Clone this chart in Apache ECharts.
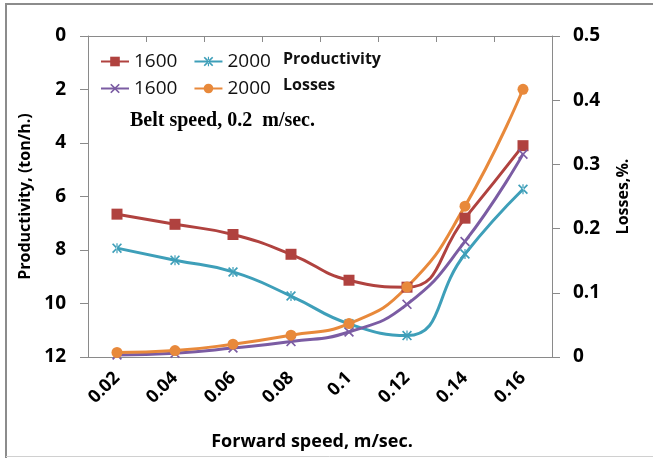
<!DOCTYPE html>
<html><head><meta charset="utf-8">
<script src="https://cdn.jsdelivr.net/npm/echarts@6/dist/echarts.min.js"></script>
<style>html,body{margin:0;padding:0;background:#fff}#c{width:653px;height:458px}</style>
</head><body><div id="c"></div>
<script>
const categories = ['0.02','0.04','0.06','0.08','0.1','0.12','0.14','0.16'];
const prod1600 = [6.66, 7.04, 7.42, 8.16, 9.13, 9.39, 6.81, 4.10];
const prod2000 = [7.93, 8.38, 8.82, 9.72, 10.76, 11.20, 8.15, 5.73];
const loss1600 = [0.003, 0.006, 0.014, 0.024, 0.039, 0.082, 0.180, 0.316];
const loss2000 = [0.007, 0.010, 0.020, 0.034, 0.052, 0.109, 0.235, 0.417];
const prodTicks = [0, 12, 2];
const lossTicks = [0, 0.5, 0.1];

const X_PATH = 'path://M0,1.2L1.2,0L5,3.8L8.8,0L10,1.2L6.2,5L10,8.8L8.8,10L5,6.2L1.2,10L0,8.8L3.8,5Z';
const STAR_PATH = 'path://M0,1.2L1.2,0L5,3.8L8.8,0L10,1.2L6.2,5L10,8.8L8.8,10L5,6.2L1.2,10L0,8.8L3.8,5Z M4.4,0L4.4,10L5.6,10L5.6,0Z';
const C = {red:'#B0423F', cyan:'#3E9FB9', purple:'#7B5CA3', orange:'#E8893B'};
const FONT = '"Open Sans", "Liberation Sans", sans-serif';

const chart = echarts.init(document.getElementById('c'), null, {renderer:'canvas'});
function line(name, data, yIdx, color, symbol, size){
  return {name, type:'line', yAxisIndex:yIdx, data, smooth:0.5, symbol, symbolSize:size,
    lineStyle:{color, width:3}, itemStyle:{color}, emphasis:{disabled:true}};
}
const legendText = {fontFamily:FONT, fontSize:19, fontWeight:500, color:'#111'};
chart.setOption({
  animation:false,
  grid:{left:88, right:101, top:36, bottom:101, containLabel:false},
  legend:[
    {left:95, top:47, padding:5, itemWidth:28, itemHeight:12, itemGap:16, data:['P1600','P2000'],
     formatter:n=>n.slice(1), textStyle:legendText},
    {left:95, top:74, padding:5, itemWidth:28, itemHeight:12, itemGap:16, data:['L1600','L2000'],
     formatter:n=>n.slice(1), textStyle:legendText}
  ],
  xAxis:[
    {type:'category', data:categories, position:'bottom', boundaryGap:true,
     axisLine:{lineStyle:{color:'#8a8a8a', width:1}},
     axisTick:{show:true, length:6, lineStyle:{color:'#8a8a8a'}},
     axisLabel:{rotate:45, margin:18, fontFamily:FONT, fontWeight:'bold', fontSize:18, color:'#000'},
     name:'Forward speed, m/sec.', nameLocation:'middle', nameGap:76,
     nameTextStyle:{fontFamily:FONT, fontWeight:'bold', fontSize:18, color:'#000', padding:[0,16,0,0]}},
    {type:'category', data:categories, position:'top', axisLine:{show:true, lineStyle:{color:'#8a8a8a'}},
     axisTick:{show:false}, axisLabel:{show:false}}
  ],
  yAxis:[
    {type:'value', inverse:true, min:prodTicks[0], max:prodTicks[1], interval:prodTicks[2], position:'left',
     axisLine:{show:true, lineStyle:{color:'#8a8a8a'}}, axisTick:{show:true, length:8, lineStyle:{color:'#8a8a8a'}},
     splitLine:{show:false},
     axisLabel:{margin:22, fontFamily:FONT, fontWeight:'bold', fontSize:19, color:'#000'},
     name:'Productivity, (ton/h.)', nameLocation:'middle', nameGap:55, nameRotate:90,
     nameTextStyle:{fontFamily:FONT, fontWeight:'bold', fontSize:16, color:'#000'}},
    {type:'value', min:lossTicks[0], max:lossTicks[1], interval:lossTicks[2], position:'right',
     axisLine:{show:true, lineStyle:{color:'#8a8a8a'}}, axisTick:{show:true, length:8, lineStyle:{color:'#8a8a8a'}},
     splitLine:{show:false},
     axisLabel:{margin:21, fontFamily:FONT, fontWeight:'bold', fontSize:19, color:'#000'},
     name:'Losses,%.', nameLocation:'middle', nameGap:63, nameRotate:90,
     nameTextStyle:{fontFamily:FONT, fontWeight:'bold', fontSize:16, color:'#000'}}
  ],
  graphic:[
    {type:'text', left:283, top:51, style:{text:'Productivity', font:'bold 16px '+FONT, fill:'#111'}},
    {type:'text', left:283, top:77, style:{text:'Losses', font:'bold 16px '+FONT, fill:'#111'}},
    {type:'text', left:130, top:111, style:{text:'Belt speed, 0.2  m/sec.', font:'bold 20px "Liberation Serif", serif', fill:'#000'}},
    {type:'line', shape:{x1:5, y1:4, x2:653, y2:4}, style:{stroke:'#8c8c8c', lineWidth:2}},
    {type:'line', shape:{x1:6, y1:4, x2:6, y2:458}, style:{stroke:'#8c8c8c', lineWidth:2}},
    {type:'line', shape:{x1:6, y1:456.5, x2:653, y2:456.5}, style:{stroke:'#d0d0d0', lineWidth:1}}
  ],
  series:[
    line('P1600', prod1600, 0, C.red, 'rect', 11),
    line('P2000', prod2000, 0, C.cyan, STAR_PATH, 10),
    line('L1600', loss1600, 1, C.purple, X_PATH, 10),
    line('L2000', loss2000, 1, C.orange, 'circle', 11)
  ]
});
</script></body></html>
